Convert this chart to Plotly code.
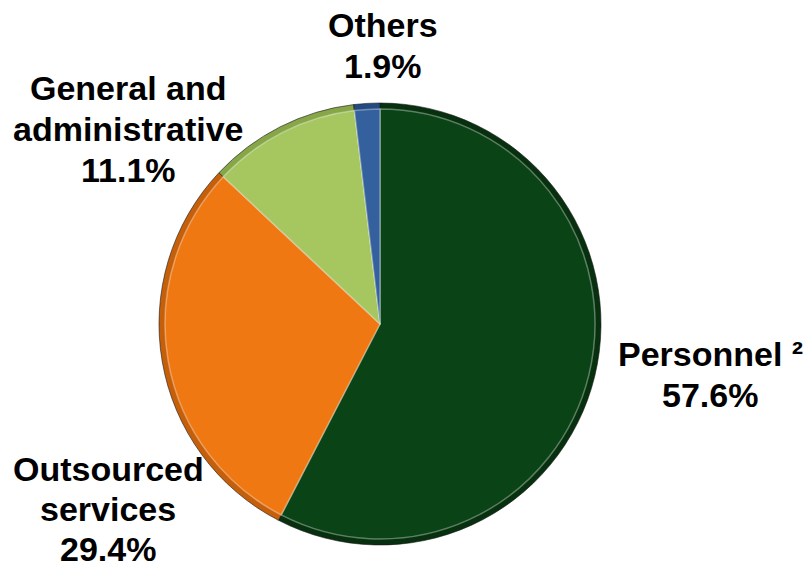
import plotly.graph_objects as go

# Cost breakdown (%)
categories = ["Personnel", "Outsourced services", "General and administrative", "Others"]
shares = [57.6, 29.4, 11.1, 1.9]
label_lines = [
    ["Personnel \u00b2"],
    ["Outsourced", "services"],
    ["General and", "administrative"],
    ["Others"],
]

base_colors = ["#0A4416", "#F07812", "#A6C660", "#34609E"]
rim_colors = ["#06300E", "#C65F0A", "#86A648", "#244A80"]

W, H = 811, 570
cx, cy, r = 380, 324, 221
inset = 6


def dom(rad):
    return dict(
        x=[(cx - rad) / W, (cx + rad) / W],
        y=[(H - (cy + rad)) / H, (H - (cy - rad)) / H],
    )


fig = go.Figure()
# darker rim underneath gives a bevelled edge
fig.add_trace(go.Pie(
    labels=categories, values=shares, sort=False, direction="clockwise",
    rotation=0, textinfo="none", hoverinfo="skip", showlegend=False,
    marker=dict(colors=rim_colors, line=dict(color="#1a1a1a", width=0.6)),
    domain=dom(r),
))
fig.add_trace(go.Pie(
    labels=categories, values=shares, sort=False, direction="clockwise",
    rotation=0, textinfo="none", hoverinfo="skip", showlegend=False,
    marker=dict(colors=base_colors, line=dict(color="rgba(255,255,255,0.35)", width=1.5)),
    domain=dom(r - inset),
))

# label blocks: centre x and baseline of the first line (pixels)
label_pos = [(710, 366), (108, 481), (128, 100), (383, 37)]
line_gaps = [41, 40, 41, 41]
font = dict(family="Liberation Sans, Arial, sans-serif", size=34, color="#000000", weight="bold")
for lines, val, (px, base), gap in zip(label_lines, shares, label_pos, line_gaps):
    for i, line in enumerate(lines + [f"{val:.1f}%"]):
        yc = base + i * gap - 12
        fig.add_annotation(
            x=px / W, y=1 - yc / H, xref="paper", yref="paper",
            text=line, showarrow=False, xanchor="center", yanchor="middle",
            font=font, borderpad=0,
        )

fig.update_layout(
    width=W, height=H,
    margin=dict(l=0, r=0, t=0, b=0),
    paper_bgcolor="white", plot_bgcolor="white",
)

fig.write_html("out.html")
